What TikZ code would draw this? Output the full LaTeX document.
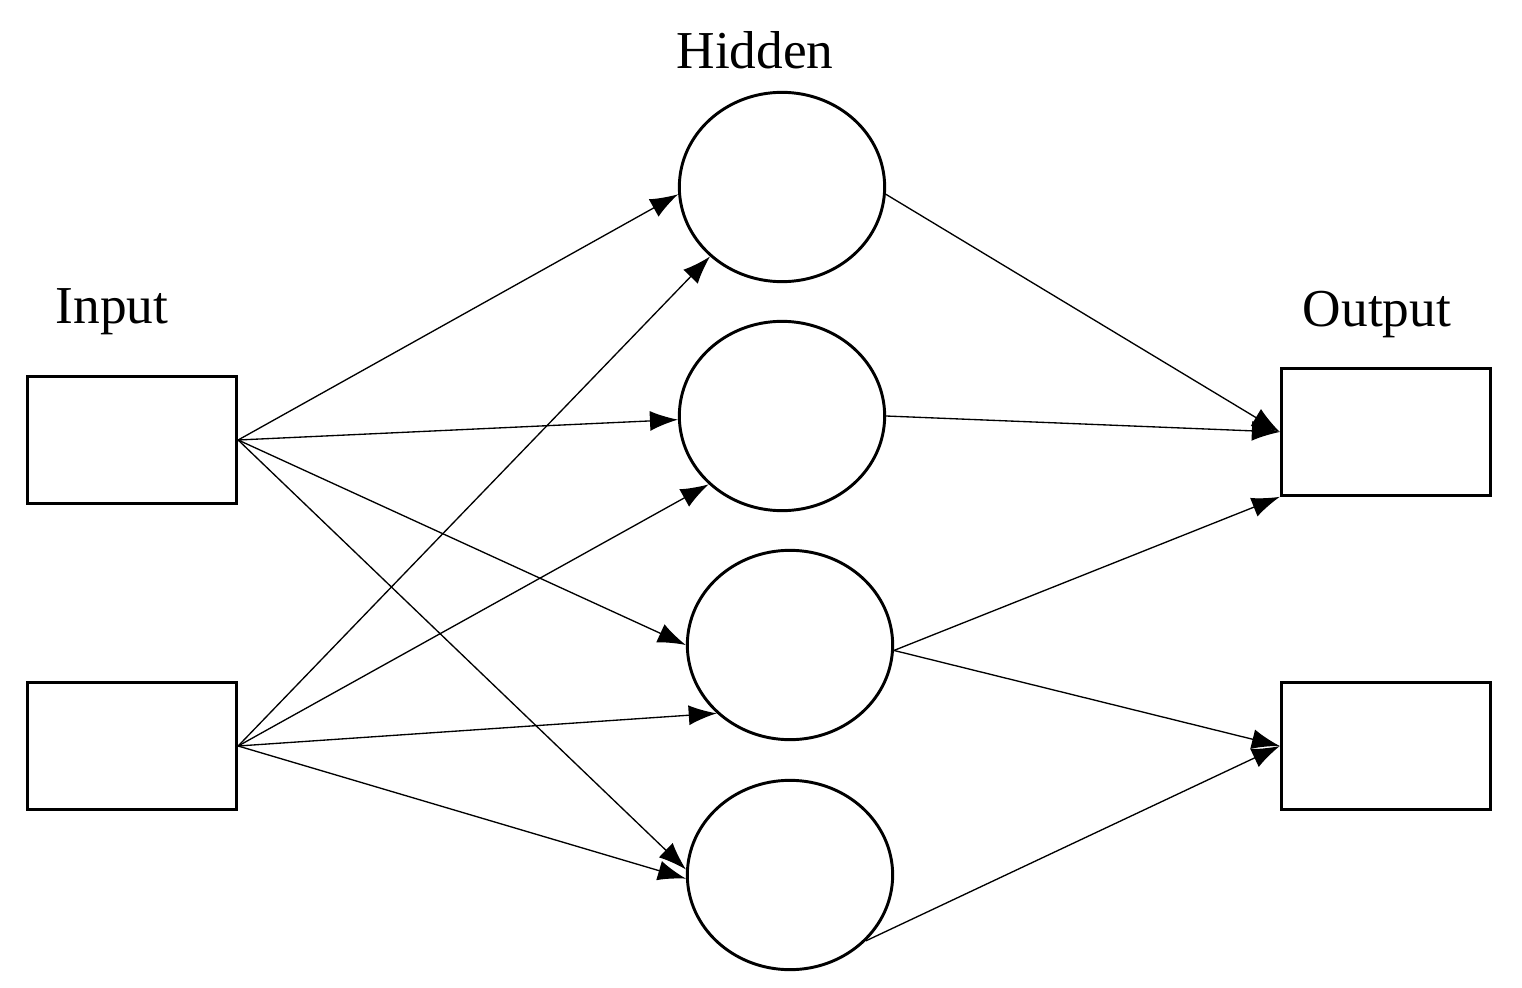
\documentclass[tikz,border=0pt]{standalone}
\usepackage{fontspec}
\setmainfont{Liberation Serif}
\usetikzlibrary{shapes.geometric,arrows.meta}
\begin{document}
\begin{tikzpicture}[x=0.75pt,y=-0.75pt,
  box/.style={draw,line width=2.2pt,minimum width=157pt,minimum height=95pt,inner sep=0pt},
  neu/.style={draw,ellipse,line width=2.2pt,minimum width=154pt,minimum height=142pt,inner sep=0pt},
  con/.style={line width=1pt,-{Latex[length=21pt,width=15pt]}},
  lab/.style={font=\fontsize{40}{48}\selectfont}]
\useasboundingbox (0,0) rectangle (1522,988);
\node[box] (i1) at (132,440) {};
\node[box] (i2) at (132,746) {};
\node[box] (o1) at (1386,432) {};
\node[box] (o2) at (1386,746) {};
\node[neu] (h1) at (782,187) {};
\node[neu] (h2) at (782,416) {};
\node[neu] (h3) at (790,645) {};
\node[neu] (h4) at (790,875) {};
\node[lab] (lh) at (755,50) {Hidden};
\node[lab] (li) at (112,312) {Input};
\node[lab] (lo) at (1377,315) {Output};
\draw[con] (i1.east) -- (h1.184);
\draw[con] (i1.east) -- (h2.182);
\draw[con] (i1.east) -- (h3.180);
\draw[con] (i1.east) -- (h4.177);
\draw[con] (i2.east) -- (h1.224);
\draw[con] (i2.east) -- (h2.223);
\draw[con] (i2.east) -- (h3.223);
\draw[con] (i2.east) -- (h4.182);
\draw[con] (h1.356) -- (o1.west);
\draw[con] (h2.0) -- (o1.west);
\draw[con] (h3.357) -- (o1.south west);
\draw[con] (h3.357) -- (o2.west);
\draw[con] (h4.319) -- (o2.west);
\end{tikzpicture}
\end{document}
